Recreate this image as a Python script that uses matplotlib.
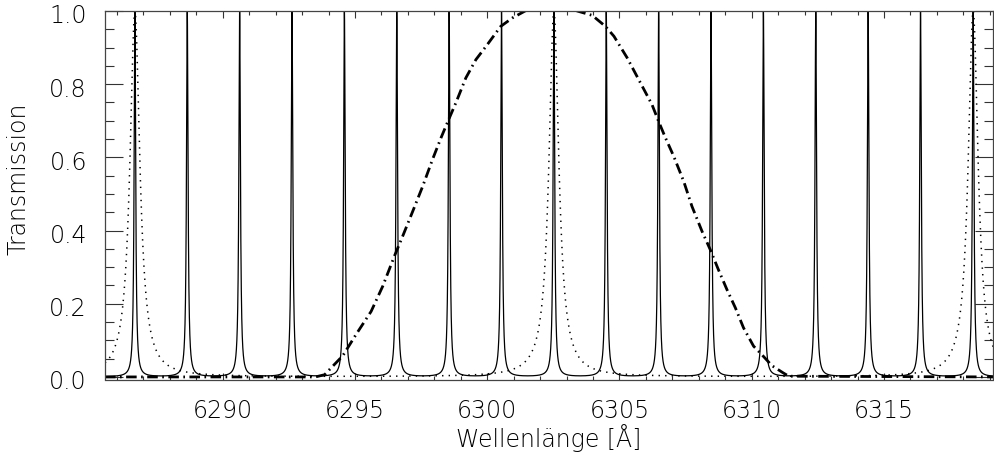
import numpy as np
import matplotlib
matplotlib.use("Agg")
import matplotlib.pyplot as plt
from matplotlib.ticker import MultipleLocator, FixedLocator
import matplotlib.transforms as mtransforms

# ---------------- data ----------------
# narrow Fabry-Perot transmission peaks (solid)
solid_peak_centers = [6286.68, 6288.66, 6290.64, 6292.62, 6294.60, 6296.58,
                      6298.56, 6300.54, 6302.52, 6304.50, 6306.48, 6308.46,
                      6310.44, 6312.42, 6314.40, 6316.38, 6318.37]
solid_peak_fwhm = 0.07      # Angstrom
# broader Fabry-Perot transmission peaks (dotted)
dotted_peak_centers = [6286.68, 6302.52, 6318.37]
dotted_peak_fwhm = 0.45     # Angstrom
# pre-filter curve (dash-dot)
prefilter_wl = [6285.55, 6293.50, 6293.85, 6294.54, 6295.04, 6295.61, 6296.05,
                6296.49, 6296.80, 6297.18, 6297.56, 6297.93, 6298.25, 6298.54,
                6298.82, 6299.19, 6299.57, 6299.95, 6300.51, 6300.95, 6301.43,
                6302.45, 6303.40, 6303.97, 6304.47, 6304.79, 6305.29, 6305.73,
                6306.23, 6306.48, 6306.74, 6307.05, 6307.43, 6307.74, 6308.12,
                6308.43, 6308.74, 6309.06, 6309.38, 6309.69, 6310.07, 6310.38,
                6310.76, 6311.19, 6311.40, 6319.12]
prefilter_T = [0.0, 0.0, 0.006, 0.058, 0.116, 0.179, 0.248,
               0.330, 0.384, 0.452, 0.521, 0.594, 0.653, 0.703,
               0.750, 0.817, 0.867, 0.903, 0.958, 0.981, 1.000,
               1.030, 1.000, 0.988, 0.958, 0.931, 0.872, 0.812,
               0.744, 0.698, 0.653, 0.603, 0.534, 0.466, 0.398,
               0.348, 0.293, 0.239, 0.189, 0.134, 0.084, 0.061,
               0.031, 0.011, 0.002, 0.0]

x_ticks = [6290, 6295, 6300, 6305, 6310, 6315]
y_ticks = [0.0, 0.2, 0.4, 0.6, 0.8, 1.0]
x_label = "Wellenlänge [Å]"
y_label = "Transmission"
xlim = (6285.55, 6319.12)
ylim = (-0.007, 1.0)

# ---------------- figure ----------------
plt.rcParams['font.family'] = ['DejaVu Sans']
plt.rcParams['font.weight'] = 'light'
plt.rcParams['axes.labelweight'] = 'light'

fig = plt.figure(figsize=(9.95, 4.59), dpi=100)
W, H = 995, 459
ax = fig.add_axes([105 / W, 1 - 379.5 / H, (993 - 105) / W, (379.5 - 11) / H])

wl = np.linspace(xlim[0], xlim[1], 40000)


def peaks(centers, fwhm):
    out = np.zeros_like(wl)
    for c in centers:
        out += 1.0 / (1.0 + (2.0 * (wl - c) / fwhm) ** 2)
    return out


ax.plot(wl, peaks(solid_peak_centers, solid_peak_fwhm), color='black', lw=0.9)
ax.plot(wl, peaks(dotted_peak_centers, dotted_peak_fwhm), color='black', lw=1.1,
        linestyle=(0, (0.9, 3.4)))
ax.plot(prefilter_wl, prefilter_T, color='black', lw=2.0,
        linestyle=(0, (3.8, 1.6, 0.6, 1.6)))

ax.set_xlim(*xlim)
ax.set_ylim(*ylim)
ax.xaxis.set_major_locator(FixedLocator(x_ticks))
ax.xaxis.set_minor_locator(MultipleLocator(1))
ax.yaxis.set_major_locator(FixedLocator(y_ticks))
ax.yaxis.set_minor_locator(MultipleLocator(0.05))
ax.set_xticklabels([str(v) for v in x_ticks], fontweight='light')
ax.set_yticklabels(["%.1f" % v for v in y_ticks], fontweight='light')

ax.tick_params(axis='both', which='both', direction='in', top=True, right=True,
               width=0.8, color='#333333', labelsize=17, labelcolor='black')
ax.tick_params(axis='x', which='major', length=5.3, pad=14)
ax.tick_params(axis='x', which='minor', length=2.7)
ax.tick_params(axis='y', which='major', length=13, pad=13)
ax.tick_params(axis='y', which='minor', length=6.5)
for s in ax.spines.values():
    s.set_linewidth(0.9)
    s.set_color('#444444')

ax.set_xlabel(x_label, fontsize=17, labelpad=1, color='black', fontweight='light')
ax.set_ylabel(y_label, fontsize=17, color='black', fontweight='light')
ax.yaxis.set_label_coords(-0.084, 0.545)

off = mtransforms.ScaledTranslation(0, -3 / 100, fig.dpi_scale_trans)
for lab in ax.get_yticklabels():
    lab.set_transform(lab.get_transform() + off)

fig.savefig("out.png", dpi=100)
